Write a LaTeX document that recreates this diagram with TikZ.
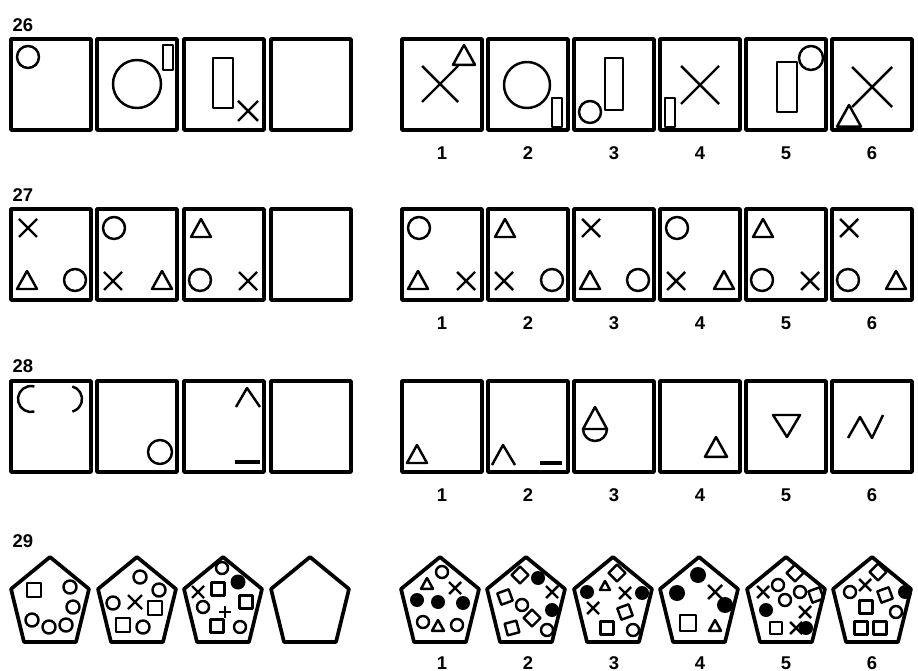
\documentclass[tikz,border=0pt]{standalone}
\usepackage{fontspec}
\setmainfont{Liberation Sans}
\tikzset{
  frame/.style={line width=2.1pt},
  fig/.style={line width=1.4pt},
  num/.style={font=\fontsize{10.5}{12}\selectfont\bfseries, inner sep=0pt},
}
% small symbols: x, y, size (square: + angle)
\newcommand{\symO}[3]{\draw[fig] (#1,#2) circle (#3);}
\newcommand{\symD}[3]{\fill (#1,#2) circle (#3);}
\newcommand{\symX}[3]{\draw[fig] (#1-#3,#2-#3) -- (#1+#3,#2+#3) (#1-#3,#2+#3) -- (#1+#3,#2-#3);}
\newcommand{\symT}[3]{\draw[fig] (#1,#2-#3) -- (#1+#3,#2+0.8*#3) -- (#1-#3,#2+0.8*#3) -- cycle;}
\newcommand{\symS}[4]{\draw[fig, rotate around={#4:(#1,#2)}] (#1-#3,#2-#3) rectangle (#1+#3,#2+#3);}
\begin{document}
\begin{tikzpicture}[x=0.02cm, y=-0.02cm, line join=round]
  \useasboundingbox (0,0) rectangle (918,671);
  % khung vuong cho 26 - 28
  \foreach \t in {39,209,381} {
    \foreach \l in {11,97,184,271,402,488,574,660,746,832}
      \draw[frame] (\l,\t) rectangle ++(80,91);
  }
  % ngu giac cho 29
  \foreach \c in {50,137,223,310,440,526,613,699,786,872}
    \draw[frame] (\c,557) -- (\c+39,589) -- (\c+26,642) -- (\c-26,642) -- (\c-39,589) -- cycle;
  \node[num] (q26) at (23,25) {26};
  \node[num] (q27) at (23,195) {27};
  \node[num] (q28) at (23,366) {28};
  \node[num] (q29) at (23,541) {29};
  \foreach \i in {1,...,6} {
    \node[num] (a26-\i) at (356+86*\i,153) {\i};
    \node[num] (a27-\i) at (356+86*\i,323) {\i};
    \node[num] (a28-\i) at (356+86*\i,495) {\i};
    \node[num] (a29-\i) at (356+86*\i,663) {\i};
  }

  % 26
  \symO{28}{57}{11}
  \draw[fig] (137,84) circle (24);
  \draw[fig] (163,45) rectangle (173,70);
  \draw[fig] (213,58) rectangle (233,108);
  \symX{248}{111}{10}
  \symX{440}{84}{18}
  \symT{464}{56}{11}
  \draw[fig] (527,85) circle (23);
  \draw[fig] (552,98) rectangle (562,127);
  \draw[fig] (605,58) rectangle (623,110);
  \symO{590}{112}{11}
  \symX{700}{85}{19}
  \draw[fig] (665,98) rectangle (675,127);
  \draw[fig] (777,62) rectangle (797,112);
  \symO{811}{58}{12}
  \symX{872}{87}{20}
  \symT{849}{117}{12}

  % 27
  \symX{28}{228}{9}   \symT{27}{281}{10}  \symO{75}{280}{11}
  \symO{114}{228}{11} \symX{113}{281}{9}  \symT{162}{281}{10}
  \symT{201}{229}{10} \symO{200}{280}{11} \symX{248}{281}{9}
  \symO{419}{228}{11} \symT{418}{281}{10} \symX{466}{281}{9}
  \symT{505}{229}{10} \symX{504}{281}{9}  \symO{552}{280}{11}
  \symX{591}{228}{9}  \symT{590}{281}{10} \symO{638}{280}{11}
  \symO{677}{228}{11} \symX{676}{281}{9}  \symT{724}{281}{10}
  \symT{763}{229}{10} \symO{762}{280}{11} \symX{810}{281}{9}
  \symX{849}{228}{9}  \symO{848}{280}{11} \symT{896}{281}{10}

  % 28
  \draw[fig] (31,399) ++(75:13) arc[start angle=75, end angle=285, radius=13];
  \draw[fig] (69,399) ++(-75:13) arc[start angle=-75, end angle=75, radius=13];
  \symO{160}{452}{12}
  \draw[fig] (236,407) -- (247,388) -- (260,407);
  \draw[line width=2.1pt] (235,462) -- (260,462);
  \symT{417}{455}{10}
  \draw[fig] (492,465) -- (503,445) -- (515,465);
  \draw[line width=2.1pt] (540,463) -- (562,463);
  \draw[fig] (595,407) -- (583,429) -- (607,429) -- cycle;
  \draw[fig] (607,429) arc[start angle=0, end angle=180, radius=12];
  \symT{716}{448}{11}
  \draw[fig] (773,415) -- (800,415) -- (787,437) -- cycle;
  \draw[fig] (848,438) -- (860,417) -- (872,438) -- (883,415);

  % 29
  \symS{34}{590}{7}{0}
  \symO{70}{587}{6.5} \symO{73}{607}{6.5} \symO{32}{620}{6.5} \symO{49}{627}{6.5} \symO{66}{625}{6.5}
  \symO{140}{577}{6.5} \symO{159}{590}{6.5} \symO{113}{603}{6.5} \symO{143}{627}{6.5}
  \symX{135}{602}{7}
  \symS{155}{608}{7}{0} \symS{123}{625}{7}{0}
  \symO{222}{568}{6} \symD{238}{582}{7.5} \symX{198}{592}{6}
  \symS{218}{589}{6.5}{0} \symS{246}{602}{6.5}{0} \symO{203}{607}{6}
  \draw[fig] (219,612) -- (231,612) (225,606) -- (225,618);
  \symS{217}{626}{6.5}{0} \symO{240}{627}{6}

  \symO{442}{572}{6} \symT{427}{584}{6} \symX{455}{588}{6}
  \symD{417}{600}{7} \symD{438}{602}{7} \symD{463}{603}{7}
  \symO{423}{622}{6} \symT{438}{626}{6} \symO{457}{625}{6}

  \symS{520}{575}{6}{45} \symD{538}{578}{7} \symS{505}{597}{6}{20} \symX{552}{592}{6}
  \symO{522}{605}{6} \symD{552}{610}{7} \symS{532}{618}{6}{45} \symS{512}{628}{6}{15} \symO{547}{630}{6}

  \symS{617}{573}{6}{45} \symT{605}{586}{5} \symD{587}{592}{7} \symX{625}{593}{6} \symD{642}{593}{7}
  \symX{593}{608}{6} \symS{625}{612}{6}{20} \symS{607}{628}{6.5}{0} \symO{633}{630}{6}

  \symD{698}{575}{8} \symD{677}{593}{8} \symX{715}{592}{7} \symD{725}{605}{8}
  \symS{688}{623}{8}{0} \symT{715}{626}{6}

  \symS{795}{573}{6}{45} \symO{778}{585}{6} \symX{763}{592}{6} \symO{800}{592}{6} \symS{816}{595}{6}{20}
  \symO{785}{600}{6} \symD{766}{610}{7} \symX{805}{612}{6}
  \symS{776}{628}{6}{0} \symX{796}{628}{6} \symD{806}{628}{7}

  \symS{878}{572}{6}{45} \symX{865}{585}{6} \symO{850}{592}{6} \symS{885}{595}{6}{20} \symD{905}{592}{7}
  \symS{866}{607}{6.5}{0} \symO{896}{612}{6} \symS{861}{628}{6.5}{0} \symS{880}{628}{6.5}{0}
\end{tikzpicture}
\end{document}
